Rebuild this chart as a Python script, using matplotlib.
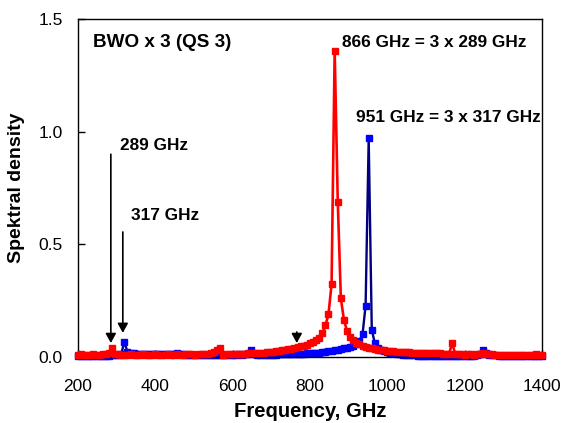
import numpy as np
import matplotlib
matplotlib.use('Agg')
import matplotlib.pyplot as plt

plt.rcParams['font.family'] = ['Liberation Sans', 'DejaVu Sans']

# frequency grid of the spectra, GHz
freq = np.arange(200, 1401, 8)

# BWO at 289 GHz, third harmonic at 866 GHz
red_density = [
    0.010, 0.012, 0.010, 0.008, 0.010, 0.012, 0.010, 0.008, 0.012, 0.014,
    0.018, 0.038, 0.014, 0.012, 0.010, 0.008, 0.010, 0.012, 0.010, 0.008,
    0.010, 0.012, 0.010, 0.009, 0.011, 0.012, 0.010, 0.009, 0.011, 0.012,
    0.010, 0.011, 0.012, 0.010, 0.011, 0.012, 0.013, 0.012, 0.011, 0.013,
    0.014, 0.013, 0.015, 0.018, 0.022, 0.030, 0.042, 0.010, 0.012, 0.013,
    0.014, 0.013, 0.014, 0.015, 0.015, 0.016, 0.017, 0.017, 0.018, 0.019,
    0.020, 0.021, 0.022, 0.024, 0.026, 0.028, 0.030, 0.032, 0.034, 0.037,
    0.040, 0.043, 0.047, 0.051, 0.055, 0.060, 0.066, 0.074, 0.086, 0.105,
    0.140, 0.190, 0.324, 1.358, 0.690, 0.260, 0.165, 0.115, 0.090, 0.075,
    0.064, 0.056, 0.050, 0.045, 0.041, 0.038, 0.035, 0.033, 0.031, 0.029,
    0.028, 0.026, 0.025, 0.024, 0.023, 0.022, 0.021, 0.021, 0.020, 0.019,
    0.019, 0.018, 0.018, 0.017, 0.017, 0.016, 0.016, 0.016, 0.015, 0.015,
    0.015, 0.062, 0.012, 0.012, 0.012, 0.011, 0.012, 0.012, 0.011, 0.012,
    0.014, 0.018, 0.015, 0.013, 0.012, 0.011, 0.010, 0.011, 0.010, 0.009,
    0.010, 0.011, 0.009, 0.008, 0.010, 0.011, 0.009, 0.010, 0.012, 0.010,
    0.009,
]

# BWO at 317 GHz, third harmonic at 951 GHz
blue_density = [
    0.005, 0.004, 0.006, 0.005, 0.004, 0.005, 0.006, 0.005, 0.004, 0.005,
    0.006, 0.007, 0.008, 0.010, 0.014, 0.068, 0.022, 0.018, 0.016, 0.015,
    0.014, 0.014, 0.013, 0.013, 0.012, 0.013, 0.012, 0.012, 0.013, 0.012,
    0.012, 0.013, 0.016, 0.013, 0.012, 0.011, 0.011, 0.010, 0.010, 0.011,
    0.010, 0.009, 0.009, 0.008, 0.008, 0.008, 0.008, 0.009, 0.010, 0.010,
    0.011, 0.011, 0.012, 0.011, 0.012, 0.012, 0.030, 0.012, 0.011, 0.010,
    0.010, 0.010, 0.011, 0.011, 0.011, 0.012, 0.012, 0.012, 0.013, 0.013,
    0.014, 0.014, 0.015, 0.015, 0.016, 0.017, 0.018, 0.019, 0.020, 0.022,
    0.023, 0.025, 0.027, 0.029, 0.032, 0.035, 0.038, 0.041, 0.045, 0.050,
    0.058, 0.072, 0.100, 0.228, 0.970, 0.120, 0.060, 0.042, 0.032, 0.026,
    0.022, 0.018, 0.016, 0.014, 0.012, 0.011, 0.010, 0.009, 0.008, 0.007,
    0.006, 0.005, 0.004, 0.004, 0.003, 0.003, 0.003, 0.003, 0.003, 0.003,
    0.003, 0.004, 0.004, 0.004, 0.004, 0.004, 0.005, 0.005, 0.006, 0.008,
    0.014, 0.030, 0.016, 0.010, 0.008, 0.007, 0.006, 0.006, 0.006, 0.005,
    0.005, 0.005, 0.006, 0.006, 0.005, 0.005, 0.005, 0.006, 0.006, 0.005,
    0.005,
]

fig = plt.figure(figsize=(5.63, 4.23), dpi=100)
ax = fig.add_axes([0.1385, 0.156, 0.824, 0.799])

ax.plot(freq, blue_density, color='#000080', lw=1.7, marker='s', ms=4.5,
        mfc='#0000ff', mec='#0000ff', clip_on=False, zorder=2)
ax.plot(freq, red_density, color='#ff0000', lw=1.9, marker='s', ms=4.5,
        mfc='#ff0000', mec='#ff0000', clip_on=False, zorder=3)

ax.set_xlim(200, 1400)
ax.set_ylim(0, 1.5)
ax.set_xticks(range(200, 1401, 200))
ax.set_yticks([0, 0.5, 1.0, 1.5])
ax.set_yticklabels(['0.0', '0.5', '1.0', '1.5'])
ax.tick_params(axis='both', direction='in', length=5, width=1, labelsize=12.5)
ax.tick_params(axis='x', pad=16)
ax.tick_params(axis='y', pad=11)
for s in ax.spines.values():
    s.set_linewidth(1.0)

ax.set_xlabel('Frequency, GHz', fontsize=14.6, fontweight='bold')
ax.set_ylabel('Spektral density', fontsize=14, fontweight='bold')
ax.xaxis.set_label_coords(0.5, -0.133)
ax.yaxis.set_label_coords(-0.114, 0.5)

txt = dict(fontsize=12.4, fontweight='bold', va='center', ha='left')
ax.text(239, 1.398, 'BWO x 3 (QS 3)', fontsize=13.6, fontweight='bold',
        va='center', ha='left')
ax.text(883, 1.398, '866 GHz = 3 x 289 GHz', **txt)
ax.text(919, 1.065, '951 GHz = 3 x 317 GHz', **txt)
ax.text(309, 0.937, '289 GHz', **txt)
ax.text(337, 0.626, '317 GHz', **txt)

arrow = dict(arrowstyle='-|>,head_length=0.4,head_width=0.22', color='black',
             lw=1.2, mutation_scale=14, shrinkA=0, shrinkB=0)
ax.annotate('', xy=(285, 0.062), xytext=(285, 0.90), arrowprops=arrow)
ax.annotate('', xy=(316, 0.107), xytext=(316, 0.555), arrowprops=arrow)
ax.annotate('', xy=(766, 0.062), xytext=(766, 0.111), arrowprops=arrow)

fig.savefig('out.png', dpi=100)
